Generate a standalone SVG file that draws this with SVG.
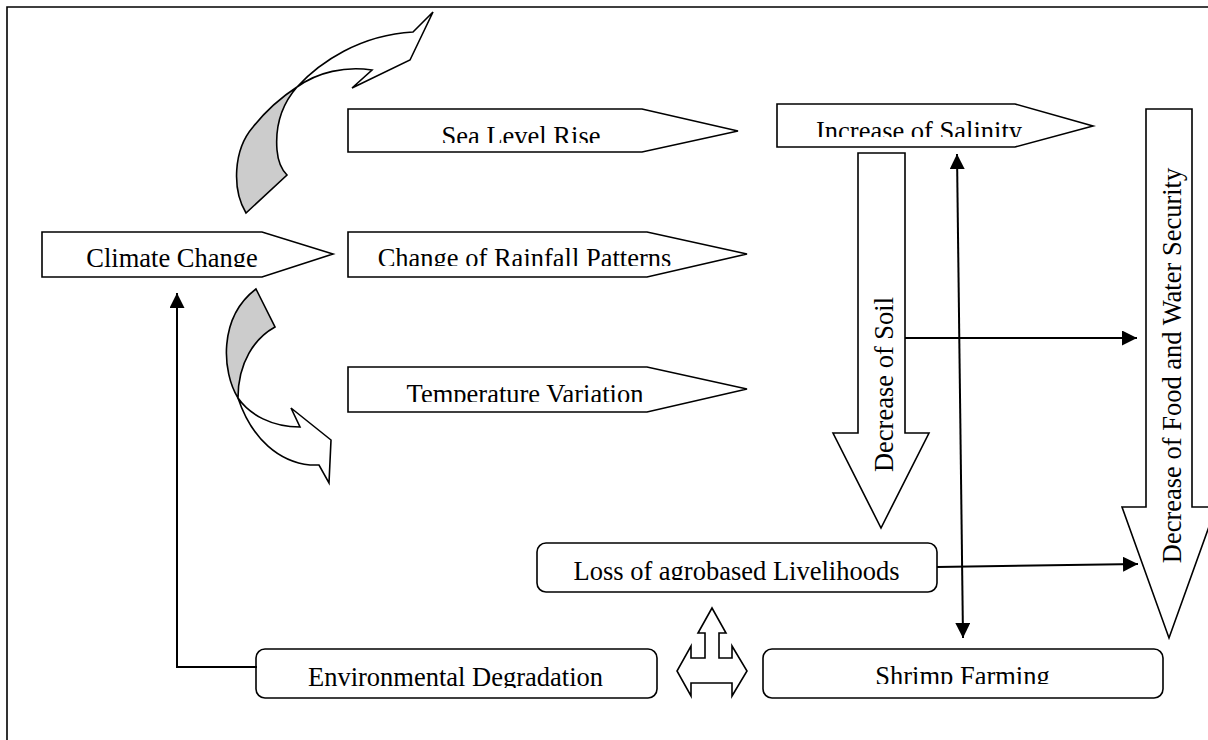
<svg xmlns="http://www.w3.org/2000/svg" width="1208" height="740" viewBox="0 0 1208 740">
<style>
.shape{fill:#fff;stroke:#000;stroke-width:1.6;stroke-linejoin:miter}
.gray{fill:#cccccc;stroke:#000;stroke-width:1.6}
.lbl{font-family:"Liberation Serif","Times New Roman",serif;font-size:26.5px;fill:#000;text-anchor:middle}
.con{fill:none;stroke:#000;stroke-width:2}
</style>
<defs>
<marker id="ah" viewBox="0 0 10 10" refX="10" refY="5" markerWidth="15" markerHeight="15" markerUnits="userSpaceOnUse" orient="auto-start-reverse">
<path d="M0,0 L10,5 L0,10 z" fill="#000"/>
</marker>
<clipPath id="c-climate"><rect x="40" y="230" width="300" height="37"/></clipPath>
<clipPath id="c-sea"><rect x="346" y="107" width="400" height="36"/></clipPath>
<clipPath id="c-rain"><rect x="346" y="230" width="400" height="36"/></clipPath>
<clipPath id="c-temp"><rect x="346" y="365" width="400" height="37"/></clipPath>
<clipPath id="c-sal"><rect x="775" y="102" width="320" height="35"/></clipPath>
<clipPath id="c-loss"><rect x="535" y="541" width="404" height="39"/></clipPath>
<clipPath id="c-env"><rect x="255" y="647" width="404" height="41"/></clipPath>
<clipPath id="c-shrimp"><rect x="761" y="647" width="404" height="37"/></clipPath>
</defs>

<path d="M7,740 L7,7 L1208,7" fill="none" stroke="#000" stroke-width="1.6"/>

<g id="curved-arrow-top">
<path class="gray" d="M246,213 C232,190 233,150 253,127 C265,112 280,98 297,87 C283,103 275,125 277,150 C278,162 282,170 287,175 Z"/>
<path class="shape" d="M297,87 C320,62 360,35 413,32 L433,12 L410,60 L352,88 L372,70 C345,66 318,72 297,87 Z"/>
</g>

<g id="curved-arrow-bottom">
<path class="gray" d="M256,289 L275,327 C255,338 238,362 238,398 C222,372 218,318 256,289 Z"/>
<path class="shape" d="M238,398 C250,415 272,427 300,427 L291,408 L331,440 L329,483 L319,465 L310,465 C280,462 252,440 238,398 Z"/>
</g>

<g id="climate-change">
<polygon class="shape" points="42,232 262,232 333,254 262,277 42,277"/>
<text class="lbl" x="172" y="266.5" clip-path="url(#c-climate)">Climate Change</text>
</g>

<g id="sea-level-rise">
<polygon class="shape" points="348,109 642,109 738,131 642,152 348,152"/>
<text class="lbl" x="521" y="144.5" clip-path="url(#c-sea)">Sea Level Rise</text>
</g>

<g id="rainfall">
<polygon class="shape" points="348,232 647,232 747,254 647,277 348,277"/>
<text class="lbl" x="524.5" y="266.5" clip-path="url(#c-rain)">Change of Rainfall Patterns</text>
</g>

<g id="temperature">
<polygon class="shape" points="348,367 647,367 747,389 647,412 348,412"/>
<text class="lbl" x="525" y="402.5" clip-path="url(#c-temp)">Temperature Variation</text>
</g>

<g id="salinity">
<polygon class="shape" points="777,104 1015,104 1093,126 1015,147 777,147"/>
<text class="lbl" x="919" y="139.5" clip-path="url(#c-sal)">Increase of Salinity</text>
</g>

<g id="soil">
<polygon class="shape" points="858,153 905,153 905,433 929,433 881,528 833,433 858,433"/>
<text class="lbl" transform="translate(892.5,384.5) rotate(-90)">Decrease of Soil</text>
</g>

<g id="food-water">
<polygon class="shape" points="1146,109 1192,109 1192,507 1216,507 1169,638 1122,507 1146,507"/>
<text class="lbl" transform="translate(1181,365.5) rotate(-90)">Decrease of Food and Water Security</text>
</g>

<g id="livelihoods">
<rect class="shape" x="537" y="543" width="400" height="49" rx="9"/>
<text class="lbl" x="736.5" y="579.5" clip-path="url(#c-loss)">Loss of agrobased Livelihoods</text>
</g>

<g id="environmental-degradation">
<rect class="shape" x="256" y="649" width="401" height="49" rx="9"/>
<text class="lbl" x="455.5" y="685.5" clip-path="url(#c-env)">Environmental Degradation</text>
</g>

<g id="shrimp-farming">
<rect class="shape" x="763" y="649" width="400" height="49" rx="9"/>
<text class="lbl" x="962.5" y="684.5" clip-path="url(#c-shrimp)">Shrimp Farming</text>
</g>

<g id="three-way-arrow">
<polygon class="shape" points="712,608 726,633 719,633 719,658 732,658 732,646 747,671 732,696 732,683 691,683 691,696 677,671 691,646 691,658 705,658 705,633 698,633"/>
</g>

<g id="connectors">
<path class="con" d="M957,154 L963,638" marker-start="url(#ah)" marker-end="url(#ah)"/>
<path class="con" d="M905,338 L1137,338" marker-end="url(#ah)"/>
<path class="con" d="M937,567 L1138,564" marker-end="url(#ah)"/>
<path class="con" d="M257,667 L177,667 L177,293" marker-end="url(#ah)"/>
</g>
</svg>
